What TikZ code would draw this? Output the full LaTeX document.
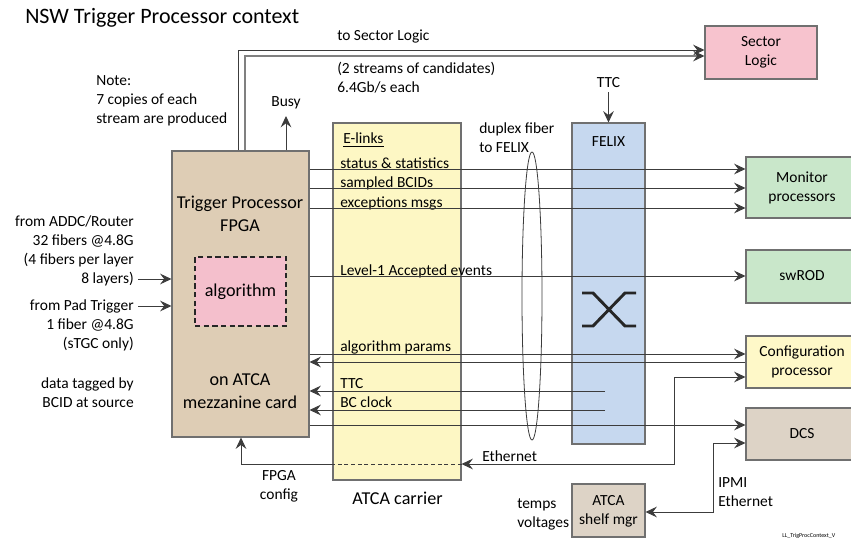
\documentclass[tikz,border=0pt]{standalone}
\usepackage{fontspec}
\setmainfont{Carlito}
\usetikzlibrary{arrows.meta,fit,shapes.geometric}
\definecolor{bordc}{HTML}{707070}
\definecolor{linec}{HTML}{3C3C3C}
\definecolor{tanc}{HTML}{DECDB5}
\definecolor{yelc}{HTML}{FDF7C4}
\definecolor{bluec}{HTML}{C6D8EF}
\definecolor{pinkc}{HTML}{F7C3CE}
\definecolor{algc}{HTML}{F4BFCC}
\definecolor{greenc}{HTML}{C9E7CA}
\definecolor{cfgc}{HTML}{FEF8C8}
\definecolor{dcsc}{HTML}{DDD3C6}
\newcommand\mysmall{\fontsize{11.6}{14.25}\selectfont}
\newcommand\mybig{\fontsize{13.6}{17}\selectfont}
\newcommand\mytitle{\fontsize{16.5}{20}\selectfont}
\tikzset{
  box/.style={draw=bordc, line width=0.8pt, inner sep=0pt},
  txt/.style={font=\mysmall, inner sep=0pt, align=center},
  bigtxt/.style={font=\mybig, inner sep=0pt, align=center},
  ln/.style={draw=linec, line width=0.75pt},
  arr/.style={ln, -{Stealth[length=8.5pt,width=8pt,inset=3pt,color=linec]}},
  barr/.style={ln, {Stealth[length=8.5pt,width=8pt,inset=3pt,color=linec]}-{Stealth[length=8.5pt,width=8pt,inset=3pt,color=linec]}}
}
\begin{document}
\begin{tikzpicture}[x=0.75pt,y=-0.75pt]
\useasboundingbox (0,0) rectangle (851,540);
\clip (0,0) rectangle (851,540);
\fill[white] (0,0) rectangle (851,540);

% boxes
\node[box, fill=tanc, fit={(172,151)(309,437)}] (tp) {};
\node[box, fill=yelc, fit={(333,123)(461,480)}] (car) {};
\node[box, fill=bluec, fit={(572,123)(645,444)}] (felix) {};
\node[box, fill=pinkc, fit={(705,26)(817,79)}] (sl) {};
\node[box, fill=greenc, fit={(746,157)(858,218)}] (mon) {};
\node[box, fill=greenc, fit={(746,250)(858,303)}] (rod) {};
\node[box, fill=cfgc, fit={(746,336)(858,388)}] (cfg) {};
\node[box, fill=dcsc, fit={(746,408)(858,460)}] (dcs) {};
\node[box, fill=dcsc, fit={(572,484)(645,537)}] (shelf) {};
\node[draw=black!85, line width=1.5pt, dash pattern=on 4pt off 2.5pt, fill=algc, inner sep=0pt, fit={(195,257)(286,326)}] (alg) {};

% texts in boxes
\node[font=\mytitle, anchor=west, inner sep=0pt] (title) at (25,18) {NSW Trigger Processor context};
\node[bigtxt] (tptxt) at (240,213.5) {Trigger Processor\\FPGA};
\node[bigtxt] (algtxt) at (240.5,292) {algorithm};
\node[bigtxt] (tptxt2) at (240,391) {on ATCA\\mezzanine card};
\node[txt, anchor=west] (elinks) at (343,140) {\underline{E-links}};
\node[bigtxt] (cartxt) at (397.5,498) {ATCA carrier};
\node[txt] (felixtxt) at (608.5,142) {FELIX};
\node[txt] (sltxt) at (761,52) {Sector\\Logic};
\node[txt] (montxt) at (802,187.5) {Monitor\\processors};
\node[txt] (rodtxt) at (802,276) {swROD};
\node[txt] (cfgtxt) at (802,362) {Configuration\\processor};
\node[txt] (dcstxt) at (802,434) {DCS};
\node[txt] (shelftxt) at (608.5,511) {ATCA\\shelf mgr};

% free texts
\node[txt, align=left, anchor=west] (note) at (96,100.5) {Note:\\7 copies of each\\stream are produced};
\node[txt] (busy) at (286,103) {Busy};
\node[txt, align=left, anchor=west] (tosl) at (337,37) {to Sector Logic};
\node[txt, align=left, anchor=west] (streams) at (337,77.5) {(2 streams of candidates)\\6.4Gb/s each};
\node[txt] (ttctop) at (608.5,83) {TTC};
\node[txt, align=left, anchor=west] (duplex) at (479,137.5) {duplex fiber\\to FELIX};
\node[txt, align=right, anchor=east] (addc) at (134,250.5) {from ADDC/Router\\32 fibers @4.8G\\(4 fibers per layer\\8 layers)};
\node[txt, align=right, anchor=east] (pad) at (134,325) {from Pad Trigger\\1 fiber @4.8G\\(sTGC only)};
\node[txt, align=right, anchor=east] (tag) at (134,393) {data tagged by\\BCID at source};
\node[txt] (fpgacfg) at (279,486) {FPGA\\config};
\node[txt, anchor=west] (eth) at (482,456) {Ethernet};
\node[txt, align=left, anchor=west] (ipmi) at (718,492) {IPMI\\Ethernet};
\node[txt, align=left, anchor=west] (temps) at (517,514) {temps\\voltages};
\node[font=\fontsize{4.5}{5}\selectfont, anchor=west, inner sep=0pt] (tag2) at (782,536) {LL\_TrigProcContext\_V};

% E-link labels
\node[txt, anchor=base west] (l1) at (340,168) {status \& statistics};
\node[txt, anchor=base west] (l2) at (340,187) {sampled BCIDs};
\node[txt, anchor=base west] (l3) at (340,207) {exceptions msgs};
\node[txt, anchor=base west] (l4) at (340,275) {Level-1 Accepted events};
\node[txt, anchor=base west] (l5) at (340,351) {algorithm params};
\node[txt, anchor=base west] (l6) at (340,388) {TTC};
\node[txt, anchor=base west] (l7) at (340,407) {BC clock};

% fiber ellipse
\node[draw=linec, line width=0.6pt, ellipse, minimum width=15pt, minimum height=216pt, inner sep=0pt] (fiber) at (532,296) {};

% FELIX crossbar
\draw[line width=2.2pt, black!85] (582,293) -- (593,293) -- (625,326) -- (636,326);
\draw[line width=2.2pt, black!85] (582,326) -- (593,326) -- (625,293) -- (636,293);

% connectors
\draw[arr] (tp.north -| 238,0) -- (238,50) -- (sl.west |- 0,50);
\draw[ln, draw=gray, line width=1.4pt, -{Stealth[length=8.5pt,width=8pt,inset=3pt,color=linec]}] (tp.north -| 245,0) -- (245,56) -- (sl.west |- 0,56);
\draw[arr] (tp.north -| 286,0) -- (286,116);
\draw[arr] (ttctop.south) ++(0,4) -- (felix.north);

\draw[arr] (138,279) -- (tp.west |- 0,279);
\draw[arr] (138,306) -- (tp.west |- 0,306);

\draw[arr] (tp.east |- 0,169) -- (mon.west |- 0,169);
\draw[arr] (tp.east |- 0,188) -- (mon.west |- 0,188);
\draw[arr] (tp.east |- 0,208) -- (mon.west |- 0,208);
\draw[arr] (tp.east |- 0,276) -- (rod.west |- 0,276);
\draw[arr] (tp.east |- 0,354) -- (cfg.west |- 0,354);
\draw[arr] (cfg.west |- 0,362) -- (tp.east |- 0,362);
\draw[arr] (605,391) -- (tp.east |- 0,391);
\draw[arr] (605,410) -- (tp.east |- 0,410);
\draw[arr] (tp.east |- 0,425) -- (dcs.west |- 0,425);

\draw[barr] (car.east |- 0,464) -- (674,464) -- (674,377) -- (cfg.west |- 0,377);
\draw[ln, dash pattern=on 3pt off 2pt] (car.east |- 0,464) -- (car.west |- 0,464);
\draw[arr] (car.west |- 0,464) -- (241,464) -- (tp.south -| 241,0);

\draw[barr] (shelf.east |- 0,512) -- (713,512) -- (713,443) -- (dcs.west |- 0,443);
\end{tikzpicture}
\end{document}
